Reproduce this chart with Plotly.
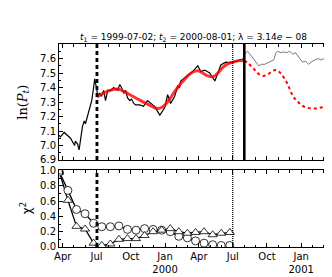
import plotly.graph_objects as go

# ---------------- data ----------------
price_dates = ["1999-03-22","1999-03-26","1999-04-05","1999-04-14","1999-04-22","1999-05-03","1999-05-05",
               "1999-05-11","1999-05-15","1999-05-24","1999-05-29","1999-06-01","1999-06-07","1999-06-12",
               "1999-06-18","1999-06-23","1999-06-26","1999-06-28","1999-07-01","1999-07-04","1999-07-09",
               "1999-07-14","1999-07-20","1999-07-25","1999-07-31","1999-08-08","1999-08-16","1999-08-21",
               "1999-08-27","1999-09-01","1999-09-06","1999-09-12","1999-09-17","1999-09-22","1999-09-28",
               "1999-10-03","1999-10-09","1999-10-14","1999-10-25","1999-11-04","1999-11-15","1999-12-04",
               "1999-12-18","1999-12-31","2000-01-08","2000-01-16","2000-01-27","2000-02-04","2000-02-09",
               "2000-02-12","2000-03-02","2000-03-15","2000-03-29","2000-04-06","2000-04-17","2000-04-30",
               "2000-05-14","2000-05-22","2000-05-30","2000-06-12","2000-06-26","2000-07-09","2000-07-23",
               "2000-08-01"]
price_vals = [7.07,7.06,7.09,7.07,7.05,7.00,7.03,
              7.01,6.97,7.13,7.17,7.15,7.21,7.25,
              7.31,7.40,7.46,7.43,7.40,7.34,7.36,
              7.34,7.38,7.31,7.38,7.38,7.40,7.39,
              7.38,7.42,7.40,7.36,7.38,7.33,7.31,
              7.32,7.29,7.28,7.28,7.27,7.31,7.27,
              7.21,7.26,7.35,7.29,7.34,7.41,7.40,
              7.445,7.48,7.51,7.55,7.51,7.52,7.50,
              7.445,7.50,7.555,7.575,7.57,7.58,7.59,
              7.60]

after_dates = ["2000-08-01","2000-08-05","2000-08-10","2000-08-16","2000-08-24","2000-09-01","2000-09-09",
               "2000-09-17","2000-09-25","2000-10-03","2000-10-11","2000-10-19","2000-10-25","2000-10-30",
               "2000-11-07","2000-11-15","2000-11-23","2000-12-01","2000-12-09","2000-12-17","2000-12-28",
               "2001-01-05","2001-01-13","2001-01-21","2001-01-30","2001-02-07","2001-02-15","2001-02-23",
               "2001-03-03","2001-03-14"]
after_vals = [7.62,7.64,7.65,7.63,7.60,7.57,7.55,
              7.56,7.56,7.57,7.58,7.59,7.64,7.65,
              7.64,7.645,7.64,7.65,7.63,7.64,7.60,
              7.575,7.58,7.56,7.58,7.59,7.60,7.59,
              7.60,7.61]

fit_dates = ["1999-07-02","1999-07-31","1999-08-27","1999-09-22","1999-10-20","1999-11-15","1999-12-12",
             "1999-12-25","2000-01-08","2000-01-21","2000-02-04","2000-02-17","2000-03-02","2000-03-15",
             "2000-03-29","2000-04-11","2000-04-25","2000-05-09","2000-05-22","2000-06-05","2000-06-19",
             "2000-07-02","2000-07-16","2000-08-01"]
fit_vals = [7.335,7.375,7.39,7.36,7.32,7.285,7.255,
            7.265,7.30,7.35,7.40,7.44,7.48,7.505,
            7.515,7.50,7.48,7.475,7.50,7.54,7.565,
            7.575,7.585,7.585]

pred_dates = ["2000-08-01","2000-08-10","2000-08-24","2000-09-06","2000-09-20","2000-10-03","2000-10-17",
              "2000-10-25","2000-11-04","2000-11-15","2000-11-26","2000-12-06","2000-12-17","2000-12-28",
              "2001-01-07","2001-01-18","2001-01-29","2001-02-09","2001-02-20","2001-03-03","2001-03-14"]
pred_vals = [7.585,7.57,7.535,7.50,7.48,7.49,7.515,
             7.52,7.505,7.47,7.42,7.36,7.315,7.29,
             7.27,7.26,7.255,7.255,7.26,7.265,7.275]

chi_dates = ["1999-03-23","1999-04-15","1999-05-08","1999-05-31","1999-06-23","1999-07-15","1999-08-07",
             "1999-08-30","1999-09-22","1999-10-15","1999-11-07","1999-11-30","1999-12-23","2000-01-15",
             "2000-02-07","2000-03-01","2000-03-23","2000-04-15","2000-05-08","2000-05-31","2000-06-23"]
chi_circle = [0.98,0.74,0.49,0.435,0.31,0.265,0.265,
              0.275,0.23,0.22,0.24,0.23,0.22,0.20,
              0.14,0.12,0.08,0.05,0.03,0.02,0.02]
chi_triangle = [0.98,0.61,0.27,0.235,0.05,0.02,0.04,
                0.10,0.11,0.11,0.15,0.20,0.22,0.24,
                0.20,0.18,0.19,0.20,0.16,0.18,0.19]

circle_line_dates = ["1999-03-22"] + chi_dates + ["2000-07-01"]
circle_line_vals = [1.0] + chi_circle + [0.01]
tri_line_dates = ["1999-03-22"] + chi_dates[:5] + ["1999-07-02"] + chi_dates[5:] + ["2000-07-01"]
tri_line_vals = [1.0] + chi_triangle[:5] + [0.0] + chi_triangle[5:] + [0.19]

t1 = "1999-07-02"
t2 = "2000-08-01"
t_end = "2000-07-01"

x_ticks = ["1999-04-01","1999-07-01","1999-10-01","2000-01-01","2000-04-01","2000-07-01","2000-10-01","2001-01-01"]
x_labels = ["Apr","Jul","Oct","Jan<br>2000","Apr","Jul","Oct","Jan<br>2001"]
y1_ticks = [6.9,7.0,7.1,7.2,7.3,7.4,7.5,7.6]
y2_ticks = [0.0,0.2,0.4,0.6,0.8,1.0]

# ---------------- figure ----------------
fig = go.Figure()
fig.add_trace(go.Scatter(x=price_dates, y=price_vals, mode="lines",
                         line=dict(color="black", width=1.2), xaxis="x", yaxis="y"))
fig.add_trace(go.Scatter(x=after_dates, y=after_vals, mode="lines",
                         line=dict(color="#555555", width=0.8), xaxis="x", yaxis="y"))
fig.add_trace(go.Scatter(x=fit_dates, y=fit_vals, mode="lines", line_shape="spline",
                         line=dict(color="rgba(255,0,0,0.8)", width=3), xaxis="x", yaxis="y"))
fig.add_trace(go.Scatter(x=pred_dates, y=pred_vals, mode="lines", line_shape="spline",
                         line=dict(color="red", width=2, dash="dot"), xaxis="x", yaxis="y"))

fig.add_trace(go.Scatter(x=circle_line_dates, y=circle_line_vals, mode="lines",
                         line=dict(color="black", width=1.3), xaxis="x2", yaxis="y2"))
fig.add_trace(go.Scatter(x=tri_line_dates, y=tri_line_vals, mode="lines",
                         line=dict(color="black", width=1.3), xaxis="x2", yaxis="y2"))
fig.add_trace(go.Scatter(x=chi_dates, y=chi_circle, mode="markers",
                         marker=dict(symbol="circle", size=8, color="white",
                                     line=dict(color="black", width=0.8)), xaxis="x2", yaxis="y2"))
fig.add_trace(go.Scatter(x=chi_dates, y=chi_triangle, mode="markers",
                         marker=dict(symbol="triangle-up", size=8, color="white",
                                     line=dict(color="black", width=0.8)), xaxis="x2", yaxis="y2"))

shapes = []
for yd in ["y domain", "y2 domain"]:
    xr_ = "x" if yd == "y domain" else "x2"
    shapes.append(dict(type="line", xref=xr_, yref=yd, x0=t1, x1=t1, y0=0, y1=1,
                       line=dict(color="black", width=2.8, dash="4px,3px")))
    shapes.append(dict(type="line", xref=xr_, yref=yd, x0=t_end, x1=t_end, y0=0, y1=1,
                       line=dict(color="black", width=1.3, dash="1px,1px")))
shapes.append(dict(type="line", xref="x", yref="y domain", x0=t2, x1=t2, y0=0, y1=1,
                   line=dict(color="black", width=2.6)))

axis_common = dict(showline=True, linecolor="black", linewidth=1, mirror="ticks",
                   ticks="inside", ticklen=4, tickcolor="black", tickwidth=1,
                   showgrid=False, zeroline=False, automargin=False,
                   tickfont=dict(family="DejaVu Sans", size=10, color="black"))
xr = ["1999-03-22", "2001-03-14"]
minor_x = dict(ticks="inside", ticklen=2.5, tick0="1999-01-01", dtick="M1", tickcolor="black", showgrid=False)

fig.update_layout(
    width=332, height=277, autosize=False,
    margin=dict(l=51, r=12, t=36, b=38, pad=0, autoexpand=False),
    paper_bgcolor="white", plot_bgcolor="white",
    showlegend=False,
    shapes=shapes,
    title=dict(text="<i>t</i><sub>1</sub> = 1999-07-02; <i>t</i><sub>2</sub> = 2000-08-01; λ = 3.14<i>e</i> − 08",
               x=0.5, xref="paper", xanchor="center", y=0.895, yref="container", yanchor="middle",
               font=dict(family="DejaVu Sans", size=9, color="black")),
    xaxis=dict(domain=[0, 1], anchor="y", range=xr, tickmode="array", tickvals=x_ticks,
               ticktext=x_labels, showticklabels=False, minor=minor_x, **axis_common),
    yaxis=dict(domain=[0.4286, 1], anchor="x", range=[6.9, 7.7], tickmode="array",
               tickvals=y1_ticks, ticktext=[f"{v:.1f}" for v in y1_ticks],
               minor=dict(ticks="inside", ticklen=2, dtick=0.05, tick0=6.9, tickcolor="black"),
               **axis_common),
    xaxis2=dict(domain=[0, 1], anchor="y2", range=xr, matches="x", tickmode="array", tickvals=x_ticks,
                ticktext=x_labels, minor=minor_x, **axis_common),
    yaxis2=dict(domain=[0, 0.377], anchor="x2", range=[0, 1.0], tickmode="array",
                tickvals=y2_ticks, ticktext=[f"{v:.1f}" for v in y2_ticks],
                minor=dict(ticks="inside", ticklen=2, dtick=0.1, tick0=0, tickcolor="black"),
                **axis_common),
    annotations=[
        dict(text="ln(<i>P</i><sub><i>t</i></sub>)", xref="paper", yref="paper", x=-0.135, y=0.714,
             textangle=-90, showarrow=False, xanchor="center", yanchor="middle",
             font=dict(family="DejaVu Serif", size=13, color="black")),
        dict(text="χ<sup>2</sup>", xref="paper", yref="paper", x=-0.12, y=0.19,
             textangle=-90, showarrow=False, xanchor="center", yanchor="middle",
             font=dict(family="DejaVu Sans", size=12, color="black")),
    ],
)

fig.write_html("out.html")
